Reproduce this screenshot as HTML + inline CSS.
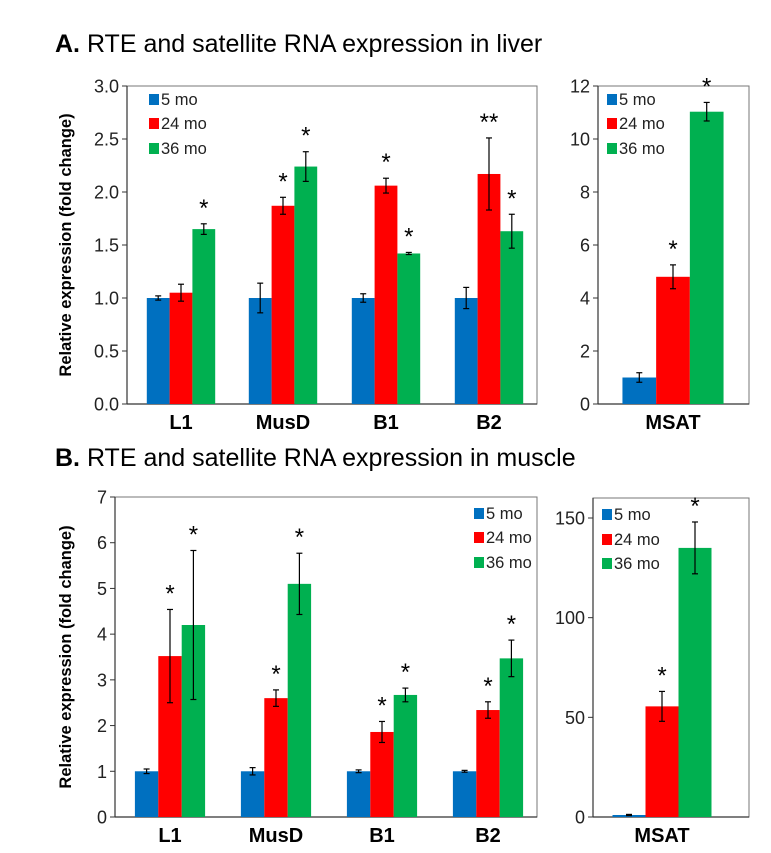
<!DOCTYPE html>
<html><head><meta charset="utf-8"><style>
body{margin:0;background:#fff;}
svg{display:block;font-family:"Liberation Sans",Arial,sans-serif;}
</style></head><body>
<svg id="c" width="771" height="853"></svg>
<script>
const catsA=["L1","MusD","B1","B2"];
const aMo5=[1.0,1.0,1.0,1.0], aMo5e=[0.02,0.14,0.04,0.1];
const aMo24=[1.05,1.87,2.06,2.17], aMo24e=[0.08,0.08,0.07,0.34];
const aMo36=[1.65,2.24,1.42,1.63], aMo36e=[0.05,0.14,0.01,0.16];
const aStar5=["","","",""], aStar24=["","*","*","**"], aStar36=["*","*","*","*"];
const aMsat=[1.0,4.8,11.03], aMsatE=[0.18,0.45,0.35], aMsatStar=["","*","*"];
const bMo5=[1.0,1.0,1.0,1.0], bMo5e=[0.05,0.08,0.03,0.02];
const bMo24=[3.52,2.6,1.86,2.34], bMo24e=[1.02,0.18,0.23,0.18];
const bMo36=[4.2,5.1,2.67,3.47], bMo36e=[1.63,0.67,0.15,0.4];
const bStar24=["*","*","*","*"], bStar36=["*","*","*","*"];
const bMsat=[1.0,55.5,135], bMsatE=[0.3,7.5,13], bMsatStar=["","*","*"];
const ticksA=["0.0","0.5","1.0","1.5","2.0","2.5","3.0"];
const ticksAR=["0","2","4","6","8","10","12"];
const ticksB=["0","1","2","3","4","5","6","7"];
const ticksBR=["0","50","100","150"];
const seriesNames=["5 mo","24 mo","36 mo"];
const colors=["#0070c0","#ff0000","#00b050"];
const svg=document.getElementById('c');
const NS="http://www.w3.org/2000/svg";
function mk(t,a,txt){const e=document.createElementNS(NS,t);for(const k in a)e.setAttribute(k,a[k]);if(txt!==undefined)e.textContent=txt;svg.appendChild(e);return e;}

function panel(p){
  const y=v=>p.y0-(v/p.max)*(p.y0-p.yTop);
  const f=mk('rect',{x:p.x0,y:p.frameTop,width:p.x1-p.x0,height:p.y0-p.frameTop,fill:'none',stroke:'#777','stroke-width':1});
  
  
  mk('line',{x1:p.x0,y1:p.frameTop,x2:p.x0,y2:p.y0,stroke:'#333','stroke-width':1.2});
  mk('line',{x1:p.x0,y1:p.y0,x2:p.x1,y2:p.y0,stroke:'#333','stroke-width':1.2});
  p.ticks.forEach(t=>{const v=parseFloat(t);const yy=y(v);
    mk('line',{x1:p.x0-5,y1:yy,x2:p.x0,y2:yy,stroke:'#333'});
    const tl=mk('text',{x:p.x0-8,y:yy+6.5,'text-anchor':'end','font-size':18,fill:'#222'},t);
    
    
  });
  p.groups.forEach((g,gi)=>{
    const cx=p.centers[gi];
    g.vals.forEach((v,si)=>{
      const bx=cx-1.5*p.bw+si*p.bw;
      const r=mk('rect',{x:bx,y:y(v),width:p.bw,height:p.y0-y(v),fill:colors[si]});
      
      
      const e=g.errs[si],m=bx+p.bw/2;
      if(e>0){
        mk('line',{x1:m,y1:y(v+e),x2:m,y2:y(v-e),stroke:'#000','stroke-width':1.2});
        mk('line',{x1:m-3,y1:y(v+e),x2:m+3,y2:y(v+e),stroke:'#000','stroke-width':1.2});
        mk('line',{x1:m-3,y1:y(v-e),x2:m+3,y2:y(v-e),stroke:'#000','stroke-width':1.2});
      }
      const s=g.stars[si];
      if(s){const st=mk('text',{x:m,y:y(v+e)-8,'text-anchor':'middle','font-size':24,fill:'#000'},s);
        
        }
    });
    const xl=mk('text',{x:cx,y:p.y0+25,'text-anchor':'middle','font-size':20,'font-weight':'bold',fill:'#000'},g.cat);
    
    
  });
  seriesNames.forEach((n,i)=>{
    const ly=p.legY[i];
    const sq=mk('rect',{x:p.legX,y:ly-11,width:10,height:11,fill:colors[i]});
    
    
    const lt=mk('text',{x:p.legX+12,y:ly,'font-size':16.5,fill:'#222'},n);
    
    
  });
}
function groups(cats,vs,es,ss){return cats.map((c,i)=>({cat:c,vals:vs.map(a=>a[i]),errs:es.map(a=>a[i]),stars:ss.map(a=>a[i])}));}

let t=mk('text',{x:55,y:52,'font-size':25,fill:'#000'});
t.innerHTML='<tspan font-weight="bold">A.</tspan> RTE and satellite RNA expression in liver';

t=mk('text',{x:55,y:466,'font-size':25,fill:'#000'});
t.innerHTML='<tspan font-weight="bold">B.</tspan> RTE and satellite RNA expression in muscle';

t=mk('text',{x:0,y:0,'font-size':16.5,'font-weight':'bold','text-anchor':'middle',transform:'translate(71,245) rotate(-90)'},'Relative expression (fold change)');

t=mk('text',{x:0,y:0,'font-size':16.5,'font-weight':'bold','text-anchor':'middle',transform:'translate(71,657) rotate(-90)'},'Relative expression (fold change)');


panel({name:'liver-main',x0:127,x1:537,frameTop:86,yTop:86,y0:404,max:3,bw:22.8,centers:[181,283,386,489],ticks:ticksA,
  groups:groups(catsA,[aMo5,aMo24,aMo36],[aMo5e,aMo24e,aMo36e],[aStar5,aStar24,aStar36]),legX:149,legY:[105,129,154]});
panel({name:'liver-msat',x0:598,x1:749,frameTop:86,yTop:86,y0:404,max:12,bw:33.7,centers:[673],ticks:ticksAR,
  groups:groups(["MSAT"],[[aMsat[0]],[aMsat[1]],[aMsat[2]]],[[aMsatE[0]],[aMsatE[1]],[aMsatE[2]]],[[aMsatStar[0]],[aMsatStar[1]],[aMsatStar[2]]]),legX:607,legY:[105,129,154]});
panel({name:'muscle-main',x0:115,x1:537,frameTop:497,yTop:497,y0:817,max:7,bw:23.4,centers:[170,276,382,488],ticks:ticksB,
  groups:groups(catsA,[bMo5,bMo24,bMo36],[bMo5e,bMo24e,bMo36e],[["","","",""],bStar24,bStar36]),legX:474,legY:[519,543,568]});
panel({name:'muscle-msat',x0:593,x1:749,frameTop:498,yTop:518,y0:817,max:150,bw:33,centers:[662],ticks:ticksBR,
  groups:groups(["MSAT"],[[bMsat[0]],[bMsat[1]],[bMsat[2]]],[[bMsatE[0]],[bMsatE[1]],[bMsatE[2]]],[[bMsatStar[0]],[bMsatStar[1]],[bMsatStar[2]]]),legX:602,legY:[520,545,569]});
</script>
</body></html>
